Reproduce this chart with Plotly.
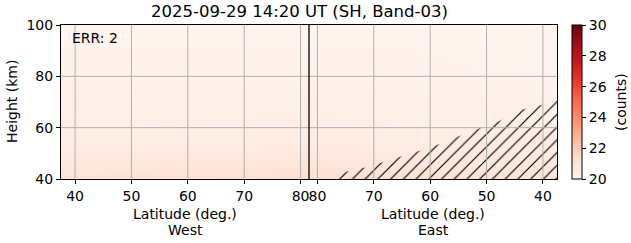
import plotly.graph_objects as go
import plotly.colors as pc

# ---- data ----
west_tick_lats = [40, 50, 60, 70, 80]
east_tick_lats = [80, 70, 60, 50, 40]
center_lat = 81.5          # turning point between West and East halves
lat_edge = 37.5

heights = [40, 45, 50, 55, 60, 70, 80, 90, 100]
# column latitudes: West side (ascending) then East side (descending)
col_west_lats = [37.5, 50, 65, 81.5]
col_east_lats = [81.5, 65, 50, 37.5]
# counts (rows = heights, cols = west cols + east cols)
z_counts = [
    [21.0, 21.1, 21.2, 21.3, 21.3, 21.2, 21.1, 21.0],
    [20.8, 20.85, 20.9, 20.95, 20.95, 20.9, 20.8, 20.75],
    [20.65, 20.7, 20.7, 20.75, 20.75, 20.7, 20.65, 20.6],
    [20.5, 20.55, 20.55, 20.6, 20.6, 20.55, 20.5, 20.5],
    [20.4, 20.4, 20.45, 20.45, 20.45, 20.4, 20.4, 20.35],
    [20.3, 20.3, 20.3, 20.35, 20.35, 20.3, 20.25, 20.25],
    [20.2, 20.2, 20.2, 20.2, 20.2, 20.2, 20.15, 20.15],
    [20.15, 20.15, 20.15, 20.15, 20.15, 20.15, 20.1, 20.1],
    [20.1, 20.1, 20.1, 20.1, 20.1, 20.1, 20.05, 20.05],
]

# hatched (no-data) region on East side: boundary latitude / height
hatch_east_lats = [77.8, 76.5, 71.2, 65.3, 59.7, 53.5, 47.6, 44.1, 38.7, 37.5, 37.5]
hatch_heights = [40, 41.9, 44.7, 48.6, 52.5, 57.9, 62.7, 66.9, 69.6, 71.5, 40]

err_count = 2
title = "2025-09-29 14:20 UT (SH, Band-03)"
cbar_title = "(counts)"
cbar_ticks = [20, 22, 24, 26, 28, 30]


def west_s(lat):
    return lat


def east_s(lat):
    return 2 * center_lat - lat


col_s = [west_s(v) for v in col_west_lats] + [east_s(v) for v in col_east_lats]
# avoid duplicate x at the center
col_s[3] -= 0.01
col_s[4] += 0.01

tickvals = [west_s(v) for v in west_tick_lats] + [east_s(v) for v in east_tick_lats]
ticktext = [str(v) for v in west_tick_lats] + [str(v) for v in east_tick_lats]

x_range = [west_s(lat_edge), east_s(lat_edge)]
y_range = [40, 100]

reds = pc.sequential.Reds
cscale = [[i / (len(reds) - 1), c] for i, c in enumerate(reds)]

FONT = "DejaVu Sans"

fig = go.Figure()
fig.add_trace(go.Heatmap(
    x=col_s, y=heights, z=z_counts, zmin=20, zmax=30, zsmooth="best",
    colorscale=cscale,
    colorbar=dict(
        x=1.0302, xanchor="left", xref="paper", thickness=10, thicknessmode="pixels",
        len=1, lenmode="fraction", y=0.5, yanchor="middle", xpad=0, ypad=0,
        outlinewidth=1, outlinecolor="black",
        tickvals=cbar_ticks, ticks="outside", ticklen=4, tickwidth=1,
        tickcolor="black", tickfont=dict(family=FONT, size=14, color="black"),
    ),
    showscale=True, hoverinfo="skip",
))

fig.add_trace(go.Scatter(
    x=[east_s(v) for v in hatch_east_lats], y=hatch_heights,
    mode="lines", line=dict(width=0, color="rgba(0,0,0,0)"),
    fill="toself", fillcolor="rgba(0,0,0,0)",
    fillpattern=dict(shape="/", fgcolor="black", fgopacity=1, bgcolor="rgba(0,0,0,0)",
                     size=9, solidity=0.13, fillmode="overlay"),
    showlegend=False, hoverinfo="skip",
))

shapes = []
for tv in tickvals:
    shapes.append(dict(type="line", xref="x", yref="paper", x0=tv, x1=tv, y0=0, y1=1,
                       line=dict(color="#b0b0b0", width=1), layer="above"))
for hv in [60, 80]:
    shapes.append(dict(type="line", xref="paper", yref="y", x0=0, x1=1, y0=hv, y1=hv,
                       line=dict(color="#b0b0b0", width=1), layer="above"))
shapes.append(dict(type="line", xref="x", yref="paper", x0=center_lat, x1=center_lat, y0=0, y1=1,
                   line=dict(color="black", width=1.3), layer="above"))

plot_l, plot_r, plot_t, plot_b = 61, 557, 25, 179
W, H = 631, 243
pw, ph = plot_r - plot_l, plot_b - plot_t


def px_x(p):
    return (p - plot_l) / pw


def px_y(p):
    return (plot_b - p) / ph


annotations = [
    dict(text=title, x=px_x(299), y=px_y(12), xref="paper", yref="paper", showarrow=False,
         xanchor="center", yanchor="middle", font=dict(family=FONT, size=16.5, color="black")),
    dict(text=f"ERR: {err_count}", x=px_x(70), y=px_y(38), xref="paper", yref="paper",
         showarrow=False, xanchor="left", yanchor="middle",
         font=dict(family=FONT, size=14, color="black")),
    dict(text="Height (km)", x=px_x(12), y=0.5, xref="paper", yref="paper", showarrow=False,
         textangle=-90, xanchor="center", yanchor="middle",
         font=dict(family=FONT, size=14, color="black")),
    dict(text=cbar_title, x=px_x(621), y=0.5, xref="paper", yref="paper", showarrow=False,
         textangle=-90, xanchor="center", yanchor="middle",
         font=dict(family=FONT, size=14, color="black")),
]
for cx, side in [(185, "West"), (433, "East")]:
    annotations.append(dict(text="Latitude (deg.)", x=px_x(cx), y=px_y(214), xref="paper", yref="paper",
                            showarrow=False, xanchor="center", yanchor="middle",
                            font=dict(family=FONT, size=14, color="black")))
    annotations.append(dict(text=side, x=px_x(cx), y=px_y(230), xref="paper", yref="paper",
                            showarrow=False, xanchor="center", yanchor="middle",
                            font=dict(family=FONT, size=14, color="black")))

fig.update_layout(
    width=W, height=H,
    margin=dict(l=plot_l, r=W - plot_r, t=plot_t, b=H - plot_b, pad=0, autoexpand=False),
    paper_bgcolor="white", plot_bgcolor="white",
    showlegend=False,
    shapes=shapes, annotations=annotations,
    xaxis=dict(range=x_range, tickvals=tickvals, ticktext=ticktext, showgrid=False,
               zeroline=False, showline=True, linecolor="black", linewidth=1, mirror=True,
               ticks="outside", ticklen=4, tickwidth=1, tickcolor="black", tickangle=0,
               automargin=False,
               tickfont=dict(family=FONT, size=14, color="black"), layer="above traces"),
    yaxis=dict(range=y_range, tickvals=[40, 60, 80, 100], showgrid=False, zeroline=False,
               showline=True, linecolor="black", linewidth=1, mirror=True,
               ticks="outside", ticklen=4, tickwidth=1, tickcolor="black", automargin=False,
               tickfont=dict(family=FONT, size=14, color="black"), layer="above traces"),
)

fig.write_html("out.html")
